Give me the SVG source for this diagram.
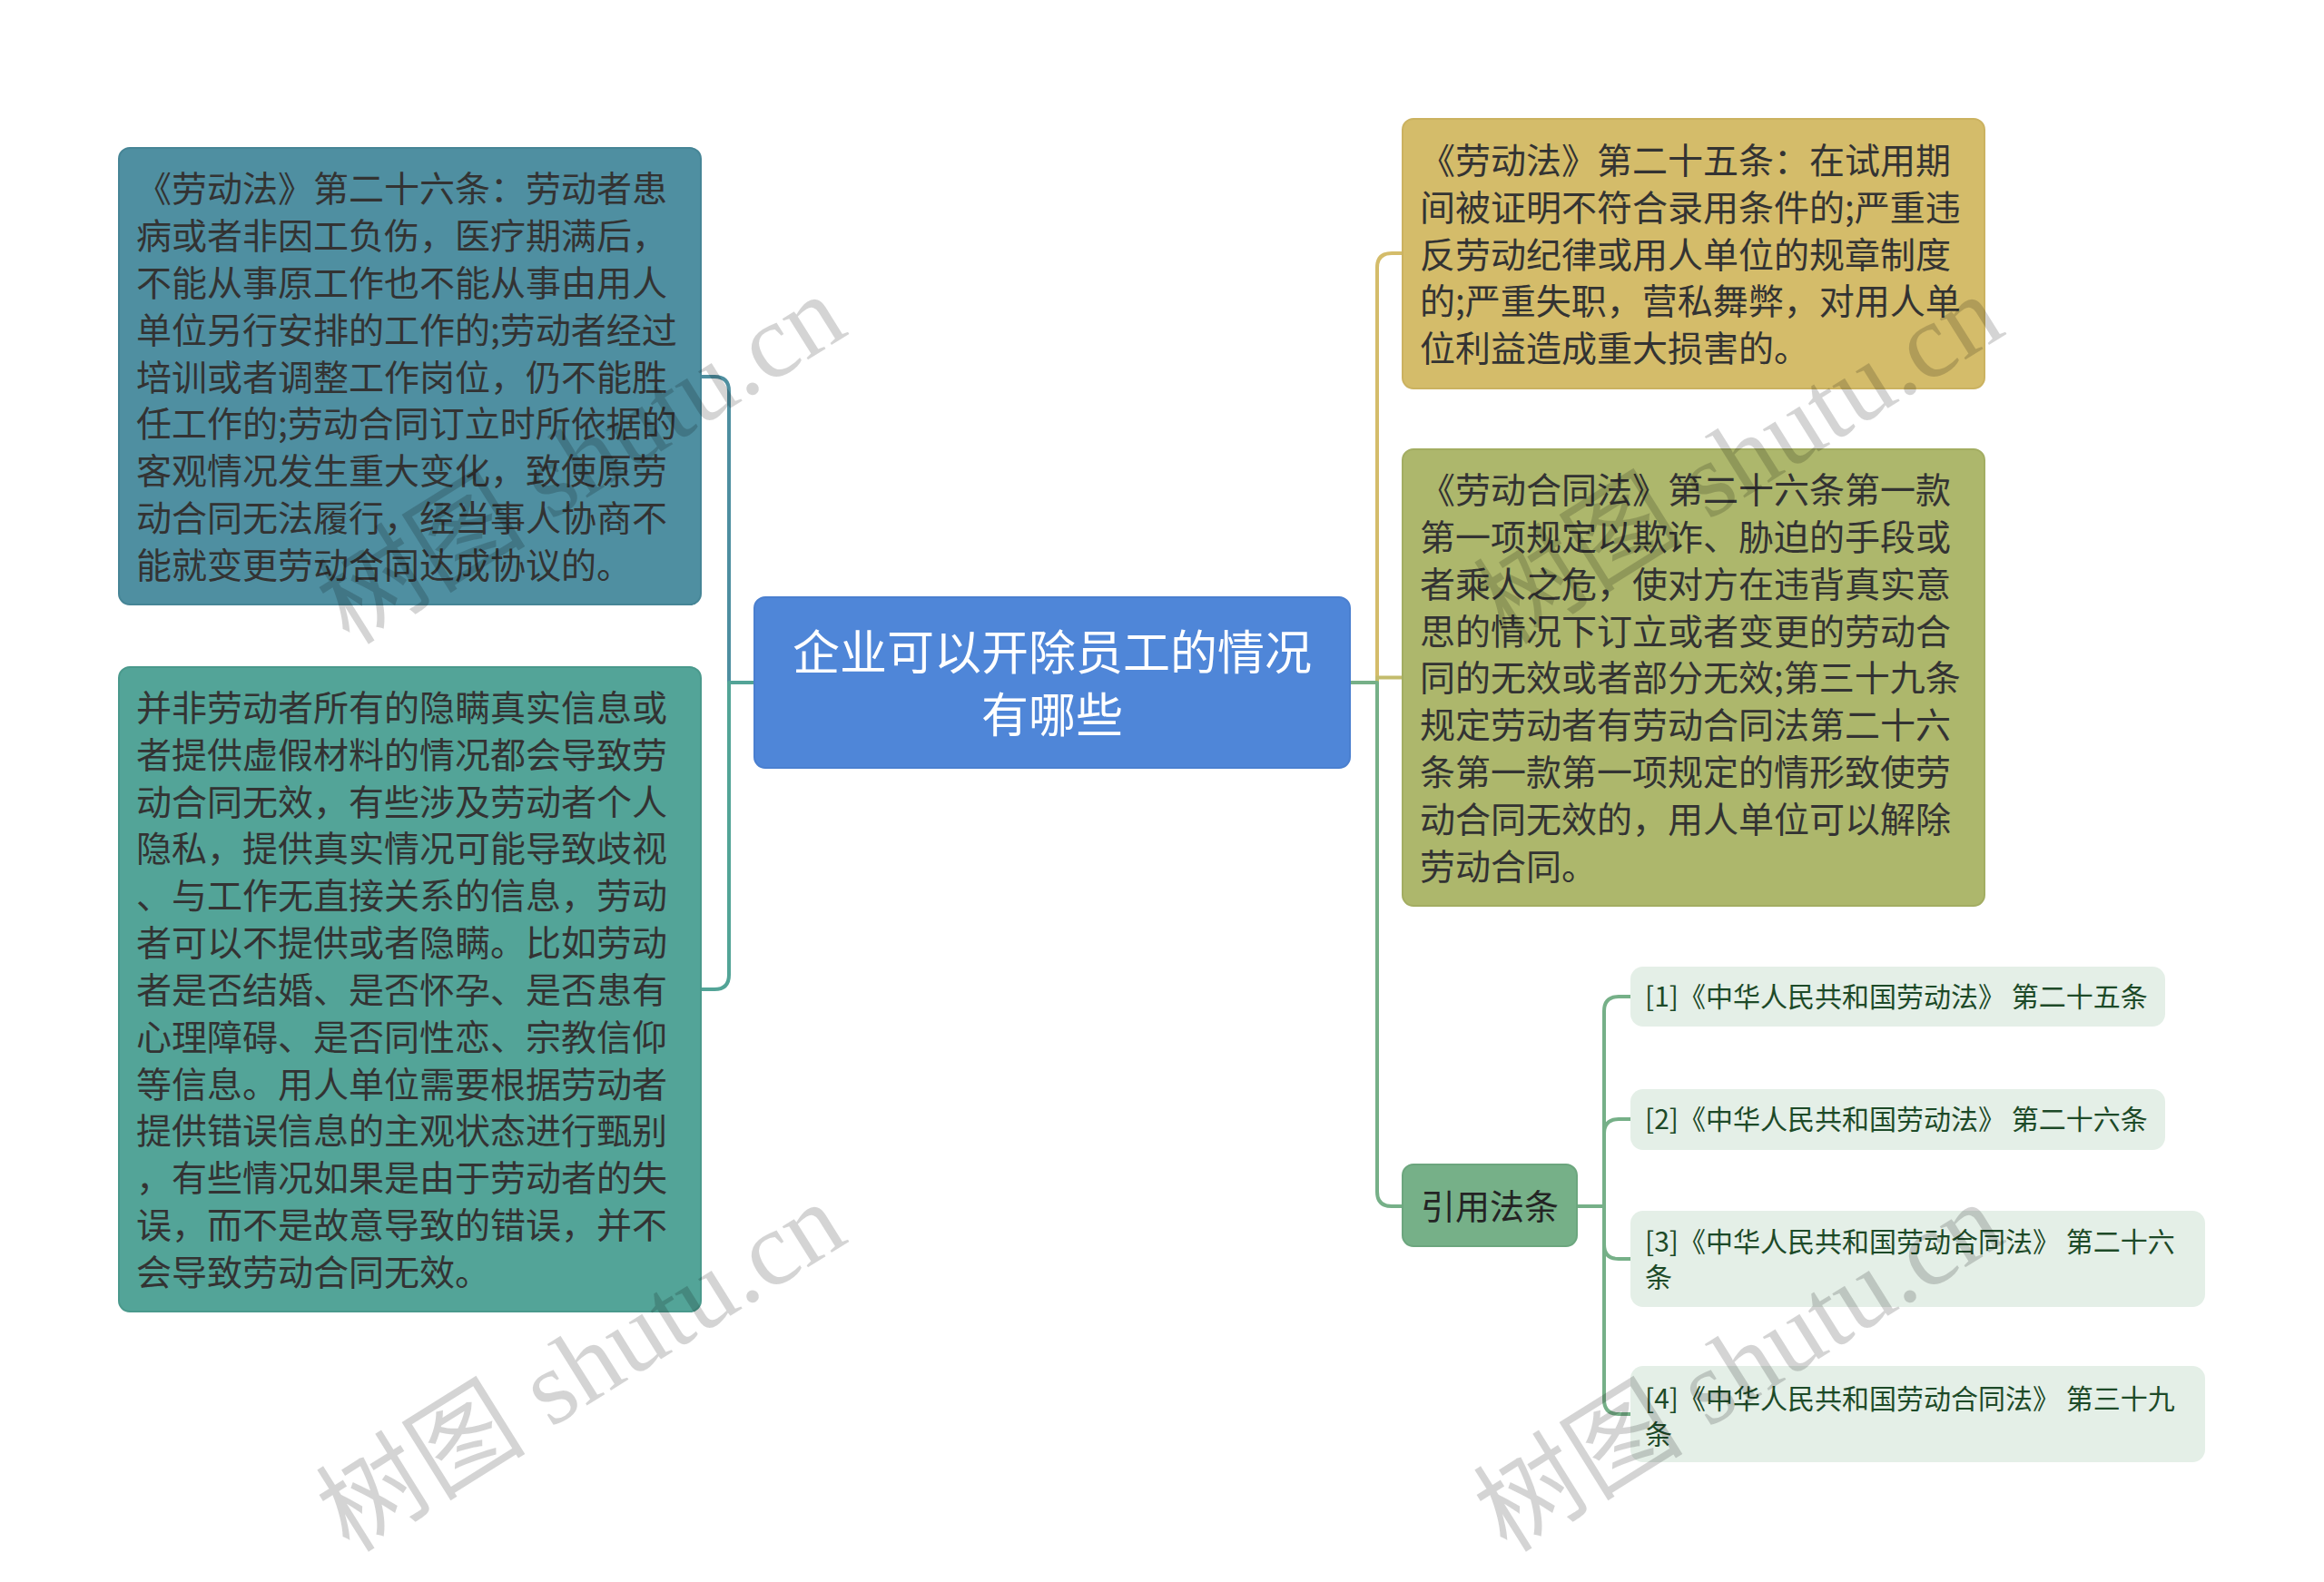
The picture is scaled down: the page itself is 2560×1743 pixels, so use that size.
<svg xmlns="http://www.w3.org/2000/svg" width="2560" height="1743" viewBox="0 0 2560 1743">
<style>
.t{font-family:"Noto Sans CJK SC","Noto Sans",sans-serif;font-size:39px;fill:#333333}
.title{font-family:"Noto Sans CJK SC","Noto Sans",sans-serif;font-size:52px;fill:#ffffff;text-anchor:middle}
.sub{font-family:"Noto Sans CJK SC","Noto Sans",sans-serif;font-size:38px;fill:#242424;text-anchor:middle}
.ref{font-family:"Noto Sans CJK SC","Noto Sans",sans-serif;font-size:30px;fill:#1d4a28}
.c{fill:none;stroke-width:4;stroke-linecap:round;stroke-linejoin:round}
.wm{font-family:"Liberation Serif","Noto Sans CJK SC",serif;font-size:116px;fill:#000000;fill-opacity:0.17}
</style>
<rect width="2560" height="1743" fill="#ffffff"/>
<g id="connectors">
  <path class="c" stroke="#4E8FA0" d="M831,752 H803 V431 Q803,415 787,415 H772"/>
  <path class="c" stroke="#53A497" d="M831,752 H803 V1074 Q803,1090 787,1090 H772"/>
  <path class="c" stroke="#D4BC6A" d="M1487,752 H1517 V295 Q1517,279 1533,279 H1545"/>
  <path class="c" stroke="#C3BC6C" d="M1517,752 V746.5 H1545"/>
  <path class="c" stroke="#76B088" d="M1487,752 H1517 V1313 Q1517,1329 1533,1329 H1545"/>
  <path class="c" stroke="#76B088" d="M1737,1329 H1767 V1114 Q1767,1098 1783,1098 H1796"/>
  <path class="c" stroke="#76B088" d="M1737,1329 H1767 V1249 Q1767,1233 1783,1233 H1796"/>
  <path class="c" stroke="#76B088" d="M1737,1329 H1767 V1371 Q1767,1387 1783,1387 H1796"/>
  <path class="c" stroke="#76B088" d="M1737,1329 H1767 V1542 Q1767,1558 1783,1558 H1796"/>
</g>
<g id="root">
  <rect x="831" y="658" width="656" height="188" rx="12" fill="#4F86D8" stroke="#4A7FCF" stroke-width="2"/>
  <text class="title" x="1159" y="738">企业可以开除员工的情况</text>
  <text class="title" x="1159" y="807">有哪些</text>
</g>
<g id="left1">
  <rect x="131" y="163" width="641" height="503" rx="12" fill="#4F8FA1" stroke="#468596" stroke-width="2"/>
  <text class="t" x="150" y="222">《劳动法》第二十六条：劳动者患</text>
  <text class="t" x="150" y="274">病或者非因工负伤，医疗期满后，</text>
  <text class="t" x="150" y="326">不能从事原工作也不能从事由用人</text>
  <text class="t" x="150" y="378">单位另行安排的工作的;劳动者经过</text>
  <text class="t" x="150" y="430">培训或者调整工作岗位，仍不能胜</text>
  <text class="t" x="150" y="481">任工作的;劳动合同订立时所依据的</text>
  <text class="t" x="150" y="533">客观情况发生重大变化，致使原劳</text>
  <text class="t" x="150" y="585">动合同无法履行，经当事人协商不</text>
  <text class="t" x="150" y="637">能就变更劳动合同达成协议的。</text>
</g>
<g id="left2">
  <rect x="131" y="735" width="641" height="710" rx="12" fill="#53A498" stroke="#4A998C" stroke-width="2"/>
  <text class="t" x="150" y="794">并非劳动者所有的隐瞒真实信息或</text>
  <text class="t" x="150" y="846">者提供虚假材料的情况都会导致劳</text>
  <text class="t" x="150" y="898">动合同无效，有些涉及劳动者个人</text>
  <text class="t" x="150" y="949">隐私，提供真实情况可能导致歧视</text>
  <text class="t" x="150" y="1001">、与工作无直接关系的信息，劳动</text>
  <text class="t" x="150" y="1053">者可以不提供或者隐瞒。比如劳动</text>
  <text class="t" x="150" y="1105">者是否结婚、是否怀孕、是否患有</text>
  <text class="t" x="150" y="1157">心理障碍、是否同性恋、宗教信仰</text>
  <text class="t" x="150" y="1209">等信息。用人单位需要根据劳动者</text>
  <text class="t" x="150" y="1260">提供错误信息的主观状态进行甄别</text>
  <text class="t" x="150" y="1312">，有些情况如果是由于劳动者的失</text>
  <text class="t" x="150" y="1364">误，而不是故意导致的错误，并不</text>
  <text class="t" x="150" y="1416">会导致劳动合同无效。</text>
</g>
<g id="right1">
  <rect x="1545" y="131" width="641" height="297" rx="12" fill="#D4BC6A" stroke="#CBB260" stroke-width="2"/>
  <text class="t" x="1564" y="191">《劳动法》第二十五条：在试用期</text>
  <text class="t" x="1564" y="243">间被证明不符合录用条件的;严重违</text>
  <text class="t" x="1564" y="295">反劳动纪律或用人单位的规章制度</text>
  <text class="t" x="1564" y="346">的;严重失职，营私舞弊，对用人单</text>
  <text class="t" x="1564" y="398">位利益造成重大损害的。</text>
</g>
<g id="right2">
  <rect x="1545" y="495" width="641" height="503" rx="12" fill="#ADB76C" stroke="#A3AD62" stroke-width="2"/>
  <text class="t" x="1564" y="554">《劳动合同法》第二十六条第一款</text>
  <text class="t" x="1564" y="606">第一项规定以欺诈、胁迫的手段或</text>
  <text class="t" x="1564" y="658">者乘人之危，使对方在违背真实意</text>
  <text class="t" x="1564" y="710">思的情况下订立或者变更的劳动合</text>
  <text class="t" x="1564" y="761">同的无效或者部分无效;第三十九条</text>
  <text class="t" x="1564" y="813">规定劳动者有劳动合同法第二十六</text>
  <text class="t" x="1564" y="865">条第一款第一项规定的情形致使劳</text>
  <text class="t" x="1564" y="917">动合同无效的，用人单位可以解除</text>
  <text class="t" x="1564" y="969">劳动合同。</text>
</g>
<g id="cite">
  <rect x="1545" y="1283" width="192" height="90" rx="12" fill="#76B088" stroke="#6CA67E" stroke-width="2"/>
  <text class="sub" x="1641" y="1343">引用法条</text>
</g>
<g id="ref1">
  <rect x="1796" y="1065" width="589" height="66" rx="14" fill="#E4EFE7"/>
  <text class="ref" x="1812" y="1109">[1]《中华人民共和国劳动法》 第二十五条</text>
</g>
<g id="ref2">
  <rect x="1796" y="1200" width="589" height="67" rx="14" fill="#E4EFE7"/>
  <text class="ref" x="1812" y="1244">[2]《中华人民共和国劳动法》 第二十六条</text>
</g>
<g id="ref3">
  <rect x="1796" y="1334" width="633" height="106" rx="14" fill="#E4EFE7"/>
  <text class="ref" x="1812" y="1379">[3]《中华人民共和国劳动合同法》 第二十六</text>
  <text class="ref" x="1812" y="1418">条</text>
</g>
<g id="ref4">
  <rect x="1796" y="1505" width="633" height="106" rx="14" fill="#E4EFE7"/>
  <text class="ref" x="1812" y="1552">[4]《中华人民共和国劳动合同法》 第三十九</text>
  <text class="ref" x="1812" y="1591">条</text>
</g>
<g id="watermarks">
  <text class="wm" transform="translate(385,712) rotate(-32)">树图 shutu.cn</text>
  <text class="wm" transform="translate(385,1712) rotate(-32)">树图 shutu.cn</text>
  <text class="wm" transform="translate(1660,712) rotate(-32)">树图 shutu.cn</text>
  <text class="wm" transform="translate(1660,1712) rotate(-32)">树图 shutu.cn</text>
</g>
</svg>
